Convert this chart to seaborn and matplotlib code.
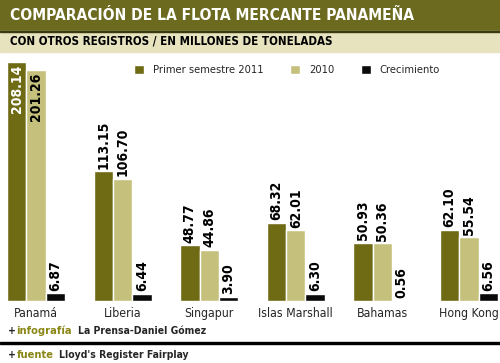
import matplotlib.pyplot as plt
import pandas as pd
import seaborn as sns
from matplotlib.patches import Rectangle

# Chart values
paises = ["Panamá", "Liberia", "Singapur", "Islas Marshall", "Bahamas", "Hong Kong"]
primer_2011 = [208.14, 113.15, 48.77, 68.32, 50.93, 62.10]
anio_2010 = [201.26, 106.70, 44.86, 62.01, 50.36, 55.54]
crecimiento = [6.87, 6.44, 3.90, 6.30, 0.56, 6.56]
series = ["Primer semestre 2011", "2010", "Crecimiento"]

olive = "#6f6b14"
light = "#c5c17d"
black = "#0a0a0a"
colores = [olive, light, black]

df = pd.DataFrame({
    "pais": paises * 3,
    "serie": [series[0]] * 6 + [series[1]] * 6 + [series[2]] * 6,
    "valor": primer_2011 + anio_2010 + crecimiento,
})

sns.set_style("white")
plt.rcParams["font.family"] = ["DejaVu Sans"]
plt.rcParams["font.stretch"] = "condensed"

W, H = 500, 363
fig = plt.figure(figsize=(W / 100, H / 100), dpi=100)

# header bands
fig.patches.append(Rectangle((0, 1 - 31 / H), 1, 31 / H, transform=fig.transFigure,
                             color="#6b6a1f", zorder=0))
fig.patches.append(Rectangle((0, 1 - 52 / H), 1, 21 / H, transform=fig.transFigure,
                             color="#e6e3be", zorder=0))
fig.patches.append(Rectangle((0, 1 - 32 / H), 1, 1.5 / H, transform=fig.transFigure,
                             color="#3a3a10", zorder=1))
fig.text(10 / W, 1 - 15 / H, "COMPARACIÓN DE LA FLOTA MERCANTE PANAMEÑA",
         color="white", fontsize=11.2, fontweight="heavy", va="center", ha="left")
fig.text(10 / W, 1 - 41 / H, "CON OTROS REGISTROS / EN MILLONES DE TONELADAS",
         color="black", fontsize=8.3, fontweight="heavy", va="center", ha="left")

# main axes: baseline at y=301px, 1.148 px per unit
base = 301
top = 55
ax = fig.add_axes([0, (H - base) / H, 1, (base - top) / H])
ax.patch.set_alpha(0)
sns.barplot(data=df, x="pais", y="valor", hue="serie", palette=colores,
            width=0.67, gap=0, saturation=1, ax=ax, legend=True)
ax.set_xlim(-36 / 86.6, (W - 36) / 86.6)
ax.set_ylim(0, (base - top) / 1.148)
for s in ax.spines.values():
    s.set_visible(False)
ax.set_yticks([])
ax.set_xlabel("")
ax.set_ylabel("")
ax.tick_params(axis="x", length=0, pad=4, labelsize=8.8)

# value labels
for i, cont in enumerate(ax.containers):
    for j, bar in enumerate(cont):
        x = bar.get_x() + bar.get_width() / 2
        v = bar.get_height()
        txt = f"{v:.2f}"
        if j == 0 and i < 2:
            ax.text(x, v - 2, txt, rotation=90, ha="center", va="top",
                    fontsize=10, fontweight="heavy",
                    color="white" if i == 0 else "black")
        else:
            ax.text(x, v + 2, txt, rotation=90, ha="center", va="bottom",
                    fontsize=10, fontweight="heavy", color="black")

leg = ax.legend(loc="center", bbox_to_anchor=(287 / W, 1 - 70 / H),
                bbox_transform=fig.transFigure, ncol=3, frameon=False,
                fontsize=8, handlelength=0.9, handleheight=0.9,
                columnspacing=2.4, handletextpad=0.8)

# footer
def pie(y, etiqueta, resto):
    t = ax.annotate("+", xy=(8 / W, 1 - y / H), xycoords=fig.transFigure,
                    fontsize=7.5, fontweight="bold", va="center",
                    annotation_clip=False)
    t2 = ax.annotate(etiqueta, xy=(1, 0.5), xycoords=t, xytext=(0.5, 0),
                     textcoords="offset points", fontsize=8, fontweight="heavy",
                     color="#8a8716", va="center", annotation_clip=False)
    ax.annotate(resto, xy=(1, 0.5), xycoords=t2, xytext=(4, 0),
                textcoords="offset points", fontsize=7.5, fontweight="bold",
                va="center", annotation_clip=False)

pie(331, "infografía", "La Prensa-Daniel Gómez")
fig.patches.append(Rectangle((0, 1 - 344 / H), 1, 2.5 / H, transform=fig.transFigure,
                             color="black", zorder=1))
pie(355, "fuente", "Lloyd's Register Fairplay")

fig.savefig("out.png", dpi=100)
